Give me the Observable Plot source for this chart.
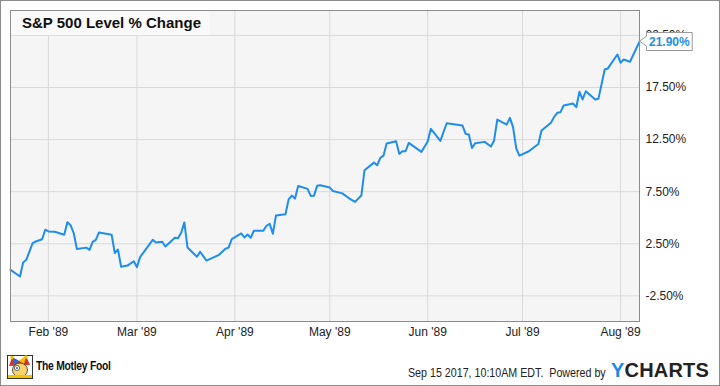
<!DOCTYPE html>
<html><head><meta charset="utf-8">
<script src="https://cdn.jsdelivr.net/npm/d3@7"></script>
<script src="https://cdn.jsdelivr.net/npm/@observablehq/plot@0.6"></script>
<style>
body{margin:0;background:#fff;}
#wrap{position:relative;width:720px;height:386px;overflow:hidden;font-family:"Liberation Sans",Arial,sans-serif;background:#fff;}
#wrap svg{display:block;}
#border{position:absolute;left:0;top:0;width:720px;height:386px;box-sizing:border-box;border:1px solid #8c8c8c;pointer-events:none;}
#title{position:absolute;left:11px;top:11px;width:199px;height:24px;background:#f9f9f9;font-weight:bold;font-size:15px;color:#111;line-height:24px;padding-left:11px;box-sizing:border-box;white-space:nowrap;}
#stamp{position:absolute;left:408px;top:367px;font-size:12px;line-height:12px;color:#222;white-space:nowrap;transform:scaleX(0.89);transform-origin:left center;}
#ych{position:absolute;left:611px;top:360px;font-size:20px;line-height:20px;font-weight:bold;color:#222;white-space:nowrap;letter-spacing:0.2px;}
#ych span{color:#1a8ae5;}
#fool{position:absolute;left:36px;top:360px;font-size:12px;line-height:12px;font-weight:bold;color:#111;white-space:nowrap;transform:scaleX(0.86);transform-origin:left center;letter-spacing:-0.3px;}
#logo{position:absolute;left:7px;top:355px;}
</style>
</head><body>
<div id="wrap">
  <div id="chart"></div>
  <div id="title">S&amp;P 500 Level % Change</div>
  <svg id="logo" width="26" height="24" viewBox="0 0 26 24">
    <rect x="0.5" y="0.5" width="25" height="23" fill="#fff" stroke="#333"/>
    <path d="M2 11 L5 2 L12 6 L19 1 L23 10 Z" fill="#d6342c"/>
    <path d="M5 2 L12 6 L8 11 Z" fill="#2a6bd6"/>
    <path d="M12 6 L19 1 L17 9 Z" fill="#f5c400"/>
    <circle cx="5" cy="2.5" r="1.8" fill="#f5c400"/>
    <circle cx="19" cy="2" r="1.8" fill="#f5c400"/>
    <ellipse cx="13" cy="15" rx="7.5" ry="7" fill="#f7d36a" stroke="#333" stroke-width="0.8"/>
    <circle cx="10" cy="13" r="2.6" fill="#fff" stroke="#333" stroke-width="0.7"/>
    <circle cx="10" cy="13" r="1.1" fill="#2a6bd6"/>
    <rect x="1" y="20" width="24" height="3" fill="#f5c400"/>
  </svg>
  <div id="fool">The Motley Fool</div>
  <div id="stamp">Sep 15 2017, 10:10AM EDT.&nbsp; Powered by</div>
  <div id="ych"><span>Y</span>CHARTS</div>
  <div id="border"></div>
</div>
<script>
// ---- data ----
const dates = [
 "1989-01-20","1989-01-23","1989-01-24","1989-01-25","1989-01-27","1989-01-28","1989-01-30","1989-01-31",
 "1989-02-01","1989-02-03","1989-02-06","1989-02-07","1989-02-08","1989-02-09","1989-02-10","1989-02-13",
 "1989-02-14","1989-02-15","1989-02-16","1989-02-17","1989-02-21","1989-02-22","1989-02-23","1989-02-24",
 "1989-02-26","1989-02-28","1989-03-01","1989-03-02","1989-03-06","1989-03-07","1989-03-09","1989-03-10",
 "1989-03-13","1989-03-14","1989-03-15","1989-03-16","1989-03-17","1989-03-20","1989-03-21","1989-03-23",
 "1989-03-27","1989-03-29","1989-03-30","1989-03-31","1989-04-03","1989-04-04","1989-04-05","1989-04-06",
 "1989-04-07","1989-04-10","1989-04-11","1989-04-12","1989-04-13","1989-04-14","1989-04-17","1989-04-18",
 "1989-04-19","1989-04-20","1989-04-21","1989-04-24","1989-04-25","1989-04-26","1989-04-27","1989-04-28",
 "1989-05-01","1989-05-02","1989-05-05","1989-05-07","1989-05-09","1989-05-11","1989-05-12","1989-05-15",
 "1989-05-16","1989-05-17","1989-05-18","1989-05-19","1989-05-22","1989-05-23","1989-05-24","1989-05-25",
 "1989-05-26","1989-05-30","1989-06-01","1989-06-02","1989-06-05","1989-06-07","1989-06-12","1989-06-13",
 "1989-06-14","1989-06-15","1989-06-16","1989-06-19","1989-06-21","1989-06-22","1989-06-23","1989-06-26",
 "1989-06-27","1989-06-28","1989-06-29","1989-06-30","1989-07-03","1989-07-06","1989-07-07","1989-07-10",
 "1989-07-11","1989-07-12","1989-07-13","1989-07-14","1989-07-17","1989-07-18","1989-07-19","1989-07-20",
 "1989-07-21","1989-07-24","1989-07-25","1989-07-27","1989-07-28","1989-07-31","1989-08-01","1989-08-02",
 "1989-08-04","1989-08-07"
];
const values = [
 0.00,-0.64,0.70,0.96,2.57,2.72,2.93,3.85,
 3.68,3.65,3.37,4.57,4.28,3.53,1.99,2.13,
 1.92,2.69,2.88,3.59,3.37,1.61,1.95,0.29,
 0.41,0.82,0.26,1.22,2.88,2.63,2.69,2.24,
 3.08,3.03,3.56,4.55,2.14,1.25,1.73,0.89,
 1.44,2.02,2.13,2.95,3.49,3.11,3.39,3.08,
 3.75,3.75,4.23,4.42,3.46,5.22,5.34,6.76,
 7.13,6.83,8.05,7.77,7.09,7.10,8.06,8.11,
 7.91,7.56,7.34,6.89,6.52,7.13,9.55,10.29,
 10.03,10.74,10.96,12.12,12.34,11.13,11.38,11.38,
 12.18,11.32,12.31,13.53,12.37,14.07,13.85,13.05,
 12.98,11.70,12.14,12.28,11.83,12.42,14.42,13.94,
 14.59,13.70,11.65,10.96,11.38,12.07,13.37,14.11,
 14.68,15.07,15.13,15.77,15.96,15.61,17.09,16.35,
 17.14,16.35,16.41,19.23,19.33,20.67,19.88,20.19,
 19.97,21.90
];
const yTicks = [-2.5, 2.5, 7.5, 12.5, 17.5, 22.5];
const monthTicks = ["1989-02-01","1989-03-01","1989-04-01","1989-05-01","1989-06-01","1989-07-01","1989-08-01"];
const lastLabel = "21.90%";

const parse = s => new Date(s + "T00:00:00Z");
const data = dates.map((d, i) => ({date: parse(d), value: values[i]}));
const monthDates = monthTicks.map(parse);
const blue = "#1f8ded";

const chart = Plot.plot({
  width: 720, height: 386,
  marginLeft: 10, marginRight: 81, marginTop: 10, marginBottom: 65,
  style: {background: "transparent", fontFamily: "'Liberation Sans', Arial, sans-serif", fontSize: "12px", color: "#222"},
  x: {type: "utc", domain: [data[0].date, data[data.length - 1].date], ticks: monthDates,
      tickFormat: d3.utcFormat("%b '%y"), tickSize: 0, tickPadding: 6, label: null},
  y: {domain: [-4.96, 24.89], axis: "right", ticks: yTicks, tickFormat: d => d.toFixed(2) + "%",
      tickSize: 0, tickPadding: 6, label: null},
  marks: [
    Plot.frame({fill: "#f5f5f5", stroke: "none"}),
    Plot.ruleY(yTicks, {stroke: "#d9d9d9", strokeWidth: 1}),
    Plot.ruleX(monthDates, {stroke: "#d9d9d9", strokeWidth: 1}),
    Plot.line(data, {x: "date", y: "value", stroke: blue, strokeWidth: 2}),
    Plot.frame({stroke: "#8c8c8c"})
  ]
});
document.getElementById("chart").appendChild(chart);

// last-value label box anchored to the last datum via the plot's scales
(function () {
  const xs = chart.scale("x"), ys = chart.scale("y");
  const px = d3.scaleUtc(xs.domain, xs.range);
  const py = d3.scaleLinear(ys.domain, ys.range);
  const last = data[data.length - 1];
  const x0 = px(last.date) + 0.5, y0 = py(last.value);
  const g = d3.select(chart).append("g").attr("text-anchor", "start");
  const path = g.append("path").attr("fill", "#fff").attr("stroke", "#999").attr("stroke-width", 1);
  const t = g.append("text").text(lastLabel)
    .attr("text-anchor", "start")
    .attr("font-family", "'Liberation Sans', Arial, sans-serif").attr("font-size", 12)
    .attr("font-weight", "bold").attr("fill", blue);
  const bx = Math.round(x0 + 6) + 0.5;
  const tw = t.node().getComputedTextLength();
  const w = tw + 5, boxTop = Math.round(y0 - 9) + 0.5, boxBot = boxTop + 18;
  t.attr("x", bx + 2.5).attr("y", boxTop + 13.5);
  path.attr("d", `M${x0},${y0}L${bx},${y0 - 5}L${bx},${boxTop}L${bx + w},${boxTop}L${bx + w},${boxBot}L${bx},${boxBot}L${bx},${y0 + 5}Z`);
})();
</script>
</body></html>
